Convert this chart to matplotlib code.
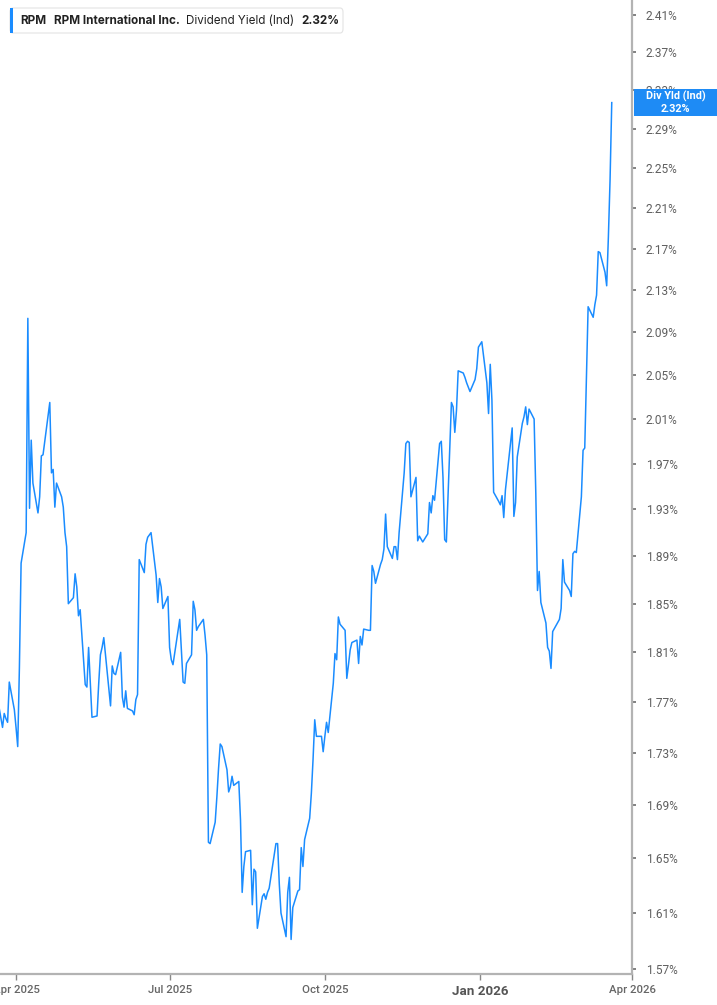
import matplotlib
matplotlib.use("Agg")
import matplotlib.pyplot as plt
import matplotlib.dates as mdates
from matplotlib.patches import FancyBboxPatch, Rectangle
from matplotlib.ticker import FixedLocator, NullLocator
import pandas as pd
import numpy as np
from datetime import datetime

# ---------------- data ----------------
holidays = ["2025-04-18", "2025-05-26", "2025-06-19", "2025-07-04", "2025-09-01",
            "2025-11-27", "2025-12-25", "2026-01-01", "2026-01-19", "2026-02-16"]
last_date = "2026-03-20"

yield_spring = [1.773, 1.750, 1.761, 1.757, 1.754, 1.786, 1.764, 1.750, 1.735, 1.798,
                1.884, 1.910, 2.103, 1.931, 1.991, 1.953, 1.927, 1.941, 1.977, 1.978,
                2.025, 1.962, 1.965, 1.932, 1.953, 1.941, 1.932, 1.910, 1.898, 1.850,
                1.855, 1.875, 1.864, 1.840, 1.845, 1.784, 1.782, 1.814, 1.785, 1.758,
                1.759, 1.785, 1.808, 1.814, 1.822, 1.767, 1.799, 1.793, 1.792, 1.810,
                1.774, 1.766, 1.779, 1.765, 1.763, 1.760, 1.772, 1.776, 1.887, 1.876,
                1.900, 1.906, 1.910, 1.874]
yield_summer = [1.851, 1.871, 1.864, 1.846, 1.856, 1.814, 1.804, 1.800, 1.837, 1.812,
                1.786, 1.785, 1.801, 1.808, 1.852, 1.845, 1.828, 1.831, 1.837, 1.824,
                1.808, 1.662, 1.661, 1.677, 1.696, 1.718, 1.737, 1.735, 1.717, 1.700,
                1.704, 1.712, 1.705, 1.708, 1.679, 1.625, 1.644, 1.655, 1.656, 1.616,
                1.642, 1.640, 1.599, 1.622, 1.624, 1.620, 1.625, 1.628, 1.661, 1.661,
                1.631, 1.610, 1.593, 1.625, 1.636, 1.591, 1.614, 1.626, 1.627, 1.658,
                1.644, 1.664, 1.680, 1.699]
yield_autumn = [1.725, 1.756, 1.743, 1.743, 1.731, 1.743, 1.754, 1.746, 1.785, 1.809,
                1.804, 1.839, 1.833, 1.828, 1.789, 1.800, 1.812, 1.818, 1.820, 1.801,
                1.823, 1.816, 1.829, 1.828, 1.828, 1.882, 1.877, 1.867, 1.883, 1.887,
                1.896, 1.926, 1.898, 1.888, 1.898, 1.898, 1.887, 1.910, 1.962, 1.988,
                1.990, 1.989, 1.941, 1.958, 1.903, 1.907, 1.902, 1.909, 1.936, 1.927,
                1.942, 1.938, 1.988, 1.990, 1.958, 1.904, 1.902]
yield_winter = [2.025, 2.021, 1.998, 2.018, 2.054, 2.052, 2.048, 2.043, 2.035, 2.046,
                2.056, 2.076, 2.081, 2.043, 2.015, 2.060, 2.027, 1.945, 1.937, 1.934,
                1.942, 1.923, 1.947, 2.002, 1.924, 1.936, 1.976, 2.006, 2.012, 2.021,
                2.005, 2.019, 2.010, 1.944, 1.861, 1.877, 1.851, 1.834, 1.814, 1.811,
                1.797, 1.827, 1.837, 1.846, 1.887]
yield_late = [1.868, 1.861, 1.856, 1.892, 1.894, 1.893, 1.941, 1.982, 1.984, 2.046,
              2.114, 2.104, 2.116, 2.125, 2.167, 2.166, 2.147, 2.134, 2.181, 2.238,
              2.317]

y_ticks = [1.57, 1.61, 1.65, 1.69, 1.73, 1.77, 1.81, 1.85, 1.89, 1.93, 1.97,
           2.01, 2.05, 2.09, 2.13, 2.17, 2.21, 2.25, 2.29, 2.33, 2.37, 2.41]
x_tick_dates = ["2025-04-01", "2025-07-01", "2025-10-01", "2026-01-01", "2026-04-01"]
x_tick_labels = ["Apr 2025", "Jul 2025", "Oct 2025", "Jan 2026", "Apr 2026"]

ticker_sym = "RPM"
company = "RPM International Inc."
metric = "Dividend Yield (Ind)"
last_label = "2.32%"
badge_title = "Div Yld (Ind)"

values = yield_spring + yield_summer + yield_autumn + yield_winter + yield_late
dates = pd.bdate_range(end=last_date, periods=len(values), freq="C",
                       holidays=holidays)

# ---------------- figure ----------------
W, H = 717, 1005
fig = plt.figure(figsize=(W / 100, H / 100), dpi=100)
fig.patch.set_facecolor("white")

ax_left = 0.0
ax_right = 632 / W
ax_bottom = (H - 974) / H
ax = fig.add_axes([ax_left, ax_bottom, ax_right - ax_left, 1 - ax_bottom])
ax.set_facecolor("white")

blue = "#1a8cff"
ax.plot(dates, values, color=blue, lw=1.1, solid_joinstyle="round", zorder=3)

ax.set_yscale("log")
ax.set_ylim(1.5665, 2.4263)
ax.set_xlim(datetime(2025, 3, 22, 12), datetime(2026, 4, 1))

# spines
for s in ["top", "left"]:
    ax.spines[s].set_visible(False)
spine_col = "#b3b3b3"
ax.spines["right"].set_color(spine_col)
ax.spines["bottom"].set_color(spine_col)
ax.spines["right"].set_linewidth(1.6)
ax.spines["bottom"].set_linewidth(1.6)

# y ticks on right
ax.yaxis.tick_right()
ax.yaxis.set_major_locator(FixedLocator(y_ticks))
ax.yaxis.set_minor_locator(NullLocator())
ax.set_yticklabels([f"{v:.2f}%" for v in y_ticks])
ax.tick_params(axis="y", which="major", direction="out", length=3, width=1.3,
               color="#777777", pad=7, labelsize=8.6, labelcolor="#5f5f5f")
for lab in ax.get_yticklabels():
    lab.set_fontfamily("Roboto")

# x ticks
xt = [mdates.date2num(pd.Timestamp(d)) for d in x_tick_dates]
ax.xaxis.set_major_locator(FixedLocator(xt))
ax.xaxis.set_minor_locator(NullLocator())
ax.set_xticklabels(x_tick_labels)
ax.tick_params(axis="x", which="major", direction="out", length=4, width=1.0,
               color="#888888", pad=4, labelsize=8.2, labelcolor="#666666")
for lab in ax.get_xticklabels():
    lab.set_fontfamily("Roboto")
    lab.set_fontweight("medium")
    if lab.get_text().startswith("Jan"):
        lab.set_fontweight("bold")
        lab.set_fontsize(9.6)
        lab.set_color("#555555")

# ---------------- legend box (top-left) ----------------
def fx(px):
    return px / W

def fy(py):
    return 1 - py / H

box = FancyBboxPatch((fx(10), fy(33)), fx(333), 25 / H,
                     boxstyle="round,pad=0,rounding_size=0.004",
                     transform=fig.transFigure, facecolor="white",
                     edgecolor="#e3e3e3", lw=0.8, zorder=10)
fig.patches.append(box)
bar = Rectangle((fx(10), fy(33)), fx(3), 25 / H, transform=fig.transFigure,
                facecolor=blue, edgecolor="none", zorder=11)
fig.patches.append(bar)

ly = fy(20.5)
tkw = dict(va="center", ha="left", color="#222222", fontsize=8.4,
           family="Inter", zorder=12)
fig.text(fx(20), ly, ticker_sym, fontweight="bold", **tkw)
fig.text(fx(54), ly, company, fontweight="bold", **tkw)
fig.text(fx(186), ly, metric, fontweight="normal", **tkw)
fig.text(fx(301), ly, last_label, fontweight="bold", **tkw)

# ---------------- right badge ----------------
badge = Rectangle((fx(634), fy(116)), fx(83), 27 / H, transform=fig.transFigure,
                  facecolor="#1e8bf5", edgecolor="none", zorder=10)
fig.patches.append(badge)
fig.text(fx(675.5), fy(96.5), badge_title, ha="center", va="center",
         color="white", fontsize=7.8, fontweight="bold", family="Roboto", zorder=12)
fig.text(fx(675.5), fy(108.5), last_label, ha="center", va="center",
         color="white", fontsize=7.8, fontweight="bold", family="Roboto", zorder=12)

fig.savefig("out.png", dpi=100, facecolor="white")
